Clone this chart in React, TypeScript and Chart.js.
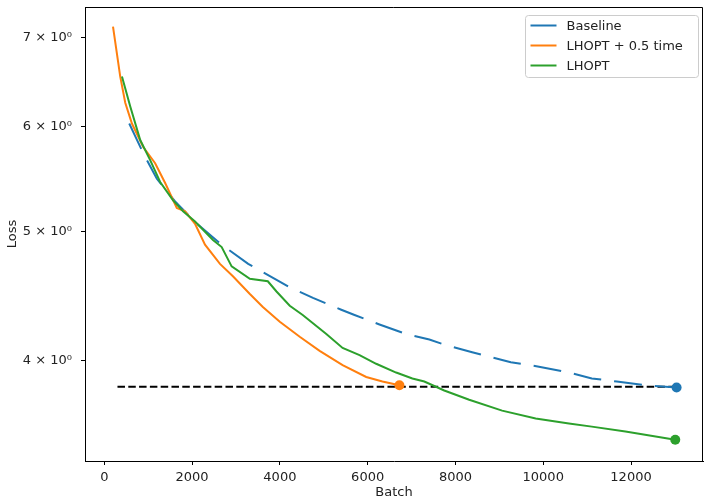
import React, { useEffect, useRef } from "react";
import { Chart, registerables } from "chart.js";

Chart.register(...registerables);

const baselineX = [568, 886, 1197, 1613, 2112, 2674, 3278, 3582, 3884, 4186, 4754, 5399, 5701, 6269, 6876, 7405, 7784, 8381, 9261, 9903, 10585, 11107, 11675, 12327, 13038];
const baselineY = [6.03, 5.73, 5.48, 5.27, 5.07, 4.89, 4.73, 4.67, 4.61, 4.55, 4.46, 4.37, 4.33, 4.26, 4.19, 4.15, 4.11, 4.06, 3.99, 3.96, 3.92, 3.88, 3.86, 3.835, 3.82];

const halfTimeX = [198, 363, 477, 629, 886, 1158, 1386, 1651, 1840, 2067, 2294, 2635, 2930, 3316, 3612, 3998, 4452, 4906, 5429, 5967, 6337, 6723];
const halfTimeY = [7.13, 6.54, 6.25, 6.03, 5.79, 5.63, 5.44, 5.21, 5.18, 5.07, 4.89, 4.73, 4.63, 4.49, 4.39, 4.28, 4.17, 4.07, 3.97, 3.89, 3.86, 3.835];

const lhoptX = [402, 591, 818, 1045, 1272, 1567, 1794, 2067, 2476, 2674, 2901, 3316, 3725, 3923, 4225, 4520, 5058, 5429, 5815, 6194, 6649, 7019, 7291, 7745, 8313, 9063, 9828, 10585, 11107, 11873, 13008];
const lhoptY = [6.54, 6.21, 5.86, 5.66, 5.45, 5.28, 5.18, 5.09, 4.93, 4.87, 4.71, 4.61, 4.59, 4.51, 4.4, 4.33, 4.19, 4.09, 4.04, 3.98, 3.92, 3.88, 3.86, 3.8, 3.74, 3.67, 3.62, 3.59, 3.57, 3.54, 3.49];

const targetX = [300, 13000];
const targetY = [3.825, 3.825];

const seriesLabels = ["Baseline", "LHOPT + 0.5 time", "LHOPT"];
const seriesColors = ["#1f77b4", "#ff7f0e", "#2ca02c"];

const xTicks = [0, 2000, 4000, 6000, 8000, 10000, 12000];
const yTicks = [4, 5, 6, 7];
const xLabel = "Batch";
const yLabel = "Loss";

const FONT = "'DejaVu Sans', sans-serif";
const TEXT = "#222";

const toPts = (xs: number[], ys: number[]) => xs.map((x, i) => ({ x, y: ys[i] }));

const lastRadius = (n: number) => (ctx: any) => (ctx.dataIndex === n - 1 ? 5 : 0);

const framePlugin = {
  id: "frameAndLegend",
  afterDraw(chart: any) {
    const ctx = chart.ctx;
    const a = chart.chartArea;
    ctx.save();
    ctx.strokeStyle = "#000";
    ctx.lineWidth = 1;
    ctx.beginPath();
    const t = Math.round(a.top) + 0.5;
    const r = Math.round(a.right) - 0.5;
    ctx.moveTo(a.left, t);
    ctx.lineTo(r, t);
    ctx.lineTo(r, a.bottom);
    ctx.stroke();

    const w = 173, h = 62;
    const x0 = Math.round(a.right) - 178 + 0.5;
    const y0 = Math.round(a.top) + 8 + 0.5;
    const rad = 3;
    ctx.beginPath();
    ctx.moveTo(x0 + rad, y0);
    ctx.lineTo(x0 + w - rad, y0);
    ctx.arcTo(x0 + w, y0, x0 + w, y0 + rad, rad);
    ctx.lineTo(x0 + w, y0 + h - rad);
    ctx.arcTo(x0 + w, y0 + h, x0 + w - rad, y0 + h, rad);
    ctx.lineTo(x0 + rad, y0 + h);
    ctx.arcTo(x0, y0 + h, x0, y0 + h - rad, rad);
    ctx.lineTo(x0, y0 + rad);
    ctx.arcTo(x0, y0, x0 + rad, y0, rad);
    ctx.closePath();
    ctx.fillStyle = "rgba(255,255,255,0.8)";
    ctx.fill();
    ctx.strokeStyle = "#cccccc";
    ctx.stroke();

    ctx.font = `13px ${FONT}`;
    ctx.textBaseline = "middle";
    ctx.textAlign = "left";
    seriesLabels.forEach((lab, i) => {
      const y = y0 + 10 + i * 20;
      ctx.strokeStyle = seriesColors[i];
      ctx.lineWidth = 2;
      ctx.setLineDash([]);
      ctx.beginPath();
      ctx.moveTo(x0 + 5, y);
      ctx.lineTo(x0 + 31, y);
      ctx.stroke();
      ctx.fillStyle = TEXT;
      ctx.fillText(lab, x0 + 41, y + 1);
    });
    ctx.restore();
  },
};

export default function App() {
  const ref = useRef<HTMLCanvasElement | null>(null);

  useEffect(() => {
    document.body.style.margin = "0";
    const canvas = ref.current;
    if (!canvas) return;
    const chart = new Chart(canvas, {
      type: "line",
      data: {
        datasets: [
          {
            label: seriesLabels[0],
            data: toPts(baselineX, baselineY),
            borderColor: seriesColors[0],
            backgroundColor: seriesColors[0],
            borderWidth: 2,
            borderDash: [28, 13],
            pointRadius: lastRadius(baselineX.length),
            pointHoverRadius: 0,
            pointBorderWidth: 0,
            tension: 0,
            order: 3,
          },
          {
            label: seriesLabels[1],
            data: toPts(halfTimeX, halfTimeY),
            borderColor: seriesColors[1],
            backgroundColor: seriesColors[1],
            borderWidth: 2,
            pointRadius: lastRadius(halfTimeX.length),
            pointHoverRadius: 0,
            pointBorderWidth: 0,
            tension: 0,
            order: 2,
          },
          {
            label: seriesLabels[2],
            data: toPts(lhoptX, lhoptY),
            borderColor: seriesColors[2],
            backgroundColor: seriesColors[2],
            borderWidth: 2,
            pointRadius: lastRadius(lhoptX.length),
            pointHoverRadius: 0,
            pointBorderWidth: 0,
            tension: 0,
            order: 1,
          },
          {
            label: "target",
            data: toPts(targetX, targetY),
            borderColor: "#000",
            backgroundColor: "#000",
            borderWidth: 2,
            borderDash: [7.5, 3.3],
            pointRadius: 0,
            pointHoverRadius: 0,
            tension: 0,
            order: 4,
          },
        ],
      },
      options: {
        animation: false,
        responsive: false,
        devicePixelRatio: 1,
        events: [],
        layout: { padding: { left: 0, right: 4, top: 7, bottom: 0 } },
        plugins: {
          legend: { display: false },
          tooltip: { enabled: false },
          title: { display: false },
        },
        scales: {
          x: {
            type: "linear",
            min: -440,
            max: 13640,
            afterBuildTicks: (s: any) => {
              s.ticks = xTicks.map((v) => ({ value: v }));
            },
            afterFit: (s: any) => {
              s.height = 39;
              s.paddingLeft = 0;
              s.paddingRight = 0;
            },
            grid: {
              display: true,
              drawOnChartArea: false,
              drawTicks: true,
              tickLength: 4,
              tickColor: "#000",
              tickWidth: 1,
            },
            border: { display: true, color: "#000", width: 1 },
            ticks: {
              font: { family: FONT, size: 13 },
              color: TEXT,
              padding: 5,
              maxRotation: 0,
              autoSkip: false,
              callback: (v: any) => String(v),
            },
            title: {
              display: true,
              text: xLabel,
              font: { family: FONT, size: 13 },
              color: TEXT,
              padding: { top: 0, bottom: 0 },
            },
          },
          y: {
            type: "logarithmic",
            min: 3.364,
            max: 7.376,
            afterBuildTicks: (s: any) => {
              s.ticks = yTicks.map((v) => ({ value: v }));
            },
            afterFit: (s: any) => {
              s.width = 85;
              s.paddingTop = 0;
              s.paddingBottom = 0;
            },
            grid: {
              display: true,
              drawOnChartArea: false,
              drawTicks: true,
              tickLength: 4,
              tickColor: "#000",
              tickWidth: 1,
            },
            border: { display: true, color: "#000", width: 1 },
            ticks: {
              font: { family: FONT, size: 13 },
              color: TEXT,
              padding: 9,
              autoSkip: false,
              callback: (v: any) => `${v} × 10⁰`,
            },
            title: {
              display: true,
              text: yLabel,
              font: { family: FONT, size: 13 },
              color: TEXT,
              padding: { top: 5, bottom: 0 },
            },
          },
        },
      },
      plugins: [framePlugin],
    });
    return () => chart.destroy();
  }, []);

  return (
    <div style={{ width: 708, height: 500 }}>
      <canvas ref={ref} width={708} height={500} style={{ display: "block" }} />
    </div>
  );
}
